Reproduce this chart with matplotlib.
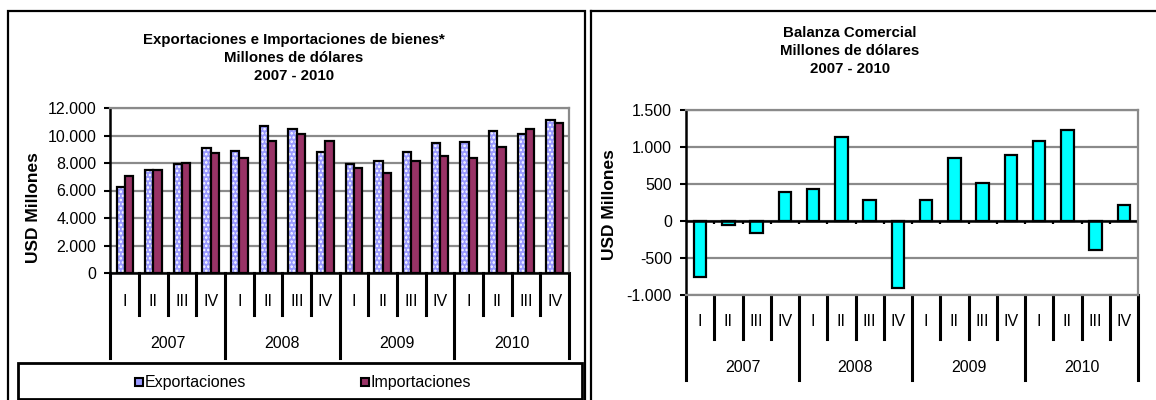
""" Exportaciones / Importaciones y Balanza Comercial 2007-2010 """
import numpy as np
import matplotlib
matplotlib.use("Agg")
import matplotlib.pyplot as plt
from matplotlib.patches import Rectangle
from matplotlib.lines import Line2D
from matplotlib.ticker import FuncFormatter, MultipleLocator
import matplotlib.transforms as mtrans

plt.rcParams["font.family"] = ["Liberation Sans", "DejaVu Sans"]
plt.rcParams["hatch.linewidth"] = 1.2

# data
years = ["2007", "2008", "2009", "2010"]
quarters = ["I", "II", "III", "IV"]
exportaciones = [6240, 7490, 7900, 9100, 8880, 10670, 10450, 8800,
                 7900, 8120, 8800, 9450, 9560, 10330, 10120, 11120]
importaciones = [7030, 7490, 8020, 8700, 8390, 9580, 10140, 9580,
                 7610, 7280, 8150, 8510, 8390, 9150, 10470, 10930]
balanza = [-750, -55, -165, 390, 430, 1130, 290, -900,
           290, 855, 520, 895, 1085, 1230, -390, 210]

W, H = 1156, 400
GRID = "#8a8a8a"
fmt = FuncFormatter(lambda v, p: "{:,}".format(int(v)).replace(",", "."))


def box(x0, y0, x1, y1):
    return [x0 / W, 1 - y1 / H, (x1 - x0) / W, (y1 - y0) / H]


def style_axes(ax, step, bottom_black):
    ax.yaxis.set_major_locator(MultipleLocator(step))
    ax.yaxis.set_major_formatter(fmt)
    ax.grid(axis="y", color=GRID, linewidth=1.6)
    ax.set_axisbelow(True)
    ax.set_xticks([])
    ax.set_xlim(-0.5, 15.5)
    ax.spines["left"].set_color("black")
    ax.spines["left"].set_linewidth(1.8)
    for s in ["top", "right"]:
        ax.spines[s].set_color(GRID)
        ax.spines[s].set_linewidth(1.6)
    ax.spines["bottom"].set_color("black" if bottom_black else GRID)
    ax.spines["bottom"].set_linewidth(1.8 if bottom_black else 1.6)
    ax.tick_params(axis="y", direction="out", length=4, width=1.5,
                   labelsize=11.5, pad=6)


def category_axis(ax, q_drop, y_drop, q_lab, y_lab):
    # separators and labels under the plot, in pixels below the axes bottom
    bb = ax.get_position()
    h = bb.height * H
    tr = mtrans.blended_transform_factory(ax.transData, ax.transAxes)
    for k in range(17):
        drop = y_drop if k % 4 == 0 else q_drop
        ax.add_line(Line2D([k - 0.5, k - 0.5], [0, -drop / h], transform=tr,
                           color="black", linewidth=2.2, clip_on=False))
    for i in range(16):
        ax.text(i, -q_lab / h, quarters[i % 4], transform=tr, ha="center",
                va="center", fontsize=11.5)
    for j, yr in enumerate(years):
        ax.text(4 * j + 1.5, -y_lab / h, yr, transform=tr, ha="center",
                va="center", fontsize=11.5)


fig = plt.figure(figsize=(W / 100, H / 100), dpi=100)

# panel frames
fig.add_artist(Rectangle((8 / W, -0.05), (585 - 8) / W, 1 - 11 / H + 0.05,
                         transform=fig.transFigure, fill=False,
                         edgecolor="black", linewidth=1.6))
fig.add_artist(Line2D([591 / W, 591 / W], [0, 1 - 11 / H],
                      transform=fig.transFigure, color="black", linewidth=1.6))
fig.add_artist(Line2D([591 / W, 1.0], [1 - 11 / H, 1 - 11 / H],
                      transform=fig.transFigure, color="black", linewidth=1.6))

# left chart
ax1 = fig.add_axes(box(110.5, 108, 569, 273))
x = np.arange(len(exportaciones))
bw = 0.29
ax1.bar(x - bw / 2, exportaciones, bw, color="#9999ff", edgecolor="white",
        hatch="....", linewidth=0)
ax1.bar(x - bw / 2, exportaciones, bw, fill=False, edgecolor="black",
        linewidth=1.6)
ax1.bar(x + bw / 2, importaciones, bw, color="#993366", edgecolor="black",
        linewidth=1.6)
ax1.set_ylim(0, 12000)
style_axes(ax1, 2000, True)
category_axis(ax1, 42, 85, 29, 70)
fig.text(33 / W, 1 - 208 / H, "USD Millones", rotation=90, ha="center",
         va="center", fontsize=12.5, fontweight="bold")
fig.text(294 / W, 1 - 58 / H,
         "Exportaciones e Importaciones de bienes*\nMillones de dólares\n2007 - 2010",
         ha="center", va="center", fontsize=10.8, fontweight="bold",
         linespacing=1.35)

# legend box
fig.add_artist(Rectangle((18 / W, 1 - 399 / H), (582 - 18) / W, 36 / H,
                         transform=fig.transFigure, facecolor="white",
                         edgecolor="black", linewidth=2))
ly = 1 - 382 / H
fig.add_artist(Rectangle((135 / W, ly - 4 / H), 8 / W, 8 / H,
                         transform=fig.transFigure, facecolor="#9999ff",
                         edgecolor="black", linewidth=1.5))
fig.text(145 / W, ly, "Exportaciones", ha="left", va="center", fontsize=11.5)
fig.add_artist(Rectangle((361 / W, ly - 4 / H), 8 / W, 8 / H,
                         transform=fig.transFigure, facecolor="#993366",
                         edgecolor="black", linewidth=1.5))
fig.text(371 / W, ly, "Importaciones", ha="left", va="center", fontsize=11.5)

# right chart
ax2 = fig.add_axes(box(686, 110, 1138, 295))
ax2.bar(x, balanza, 0.45, color="#00ffff", edgecolor="black", linewidth=1.6)
ax2.set_ylim(-1000, 1500)
style_axes(ax2, 500, False)
ax2.axhline(0, color="black", linewidth=1.8, zorder=1.5)
ax2.vlines(np.arange(17) - 0.5, -45, 0, color="black", linewidth=1.6)
category_axis(ax2, 44, 85, 27, 72)
fig.text(609 / W, 1 - 205 / H, "USD Millones", rotation=90, ha="center",
         va="center", fontsize=12.5, fontweight="bold")
fig.text(850 / W, 1 - 51 / H,
         "Balanza Comercial\nMillones de dólares\n2007 - 2010",
         ha="center", va="center", fontsize=10.8, fontweight="bold",
         linespacing=1.35)

fig.savefig("out.png", dpi=100)
